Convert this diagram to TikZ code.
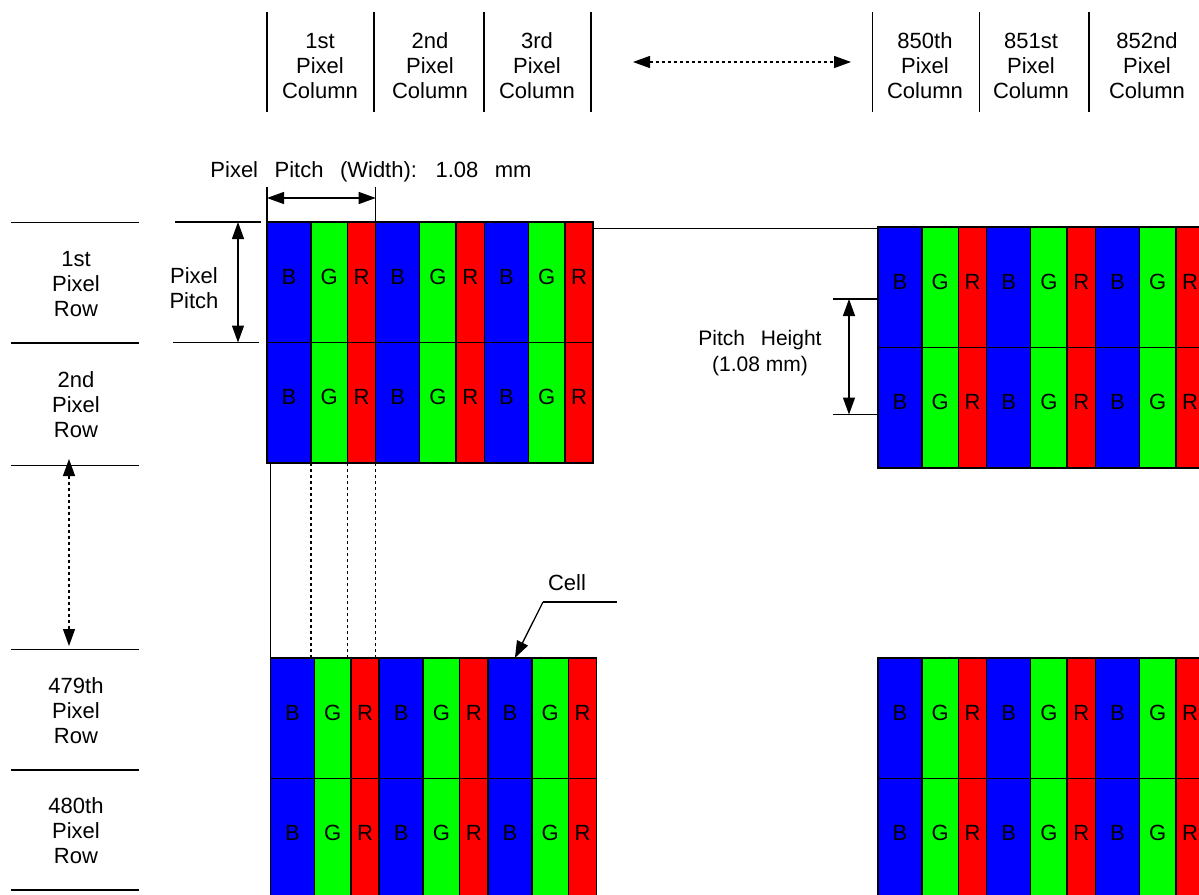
\documentclass[tikz,border=0pt]{standalone}
\usepackage{xcolor}
\usepackage{fontspec}
\setmainfont{Liberation Sans}
\newfontfamily\widefont[WordSpace=2.7]{Liberation Sans}
\usetikzlibrary{arrows.meta,positioning}

\definecolor{pxB}{RGB}{0,0,255}
\definecolor{pxG}{RGB}{0,255,0}
\definecolor{pxR}{RGB}{255,0,0}

\tikzset{
	subpx/.style={draw=black, line width=1.5pt, anchor=north west, inner sep=0pt, outer sep=0pt,
		minimum height=120.5pt, text height=15.75pt, text depth=12pt,
		font=\fontsize{22}{25}\selectfont},
	lbl/.style={align=center, inner sep=0pt, font=\fontsize{22}{25}\selectfont},
	sep/.style={line width=1.3pt},
	dotline/.style={line width=1.3pt, dash pattern=on 3pt off 3pt},
	tip/.tip={Triangle[length=17pt,width=12pt]},
	dimarrow/.style={sep, tip-tip},
	dotarrow/.style={dotline, tip-tip}
}

% one block of 2 x 3 pixels (B G R each)
\newcommand{\pxpanel}[3]{%
	\foreach \r in {1,2} {
		\foreach \p in {0,1,2} {
			\foreach \s/\col/\dx/\w in {B/pxB/0/44, G/pxG/44/36.5, R/pxR/80.5/28.2} {
				\node[subpx, fill=\col, minimum width=\w pt] (#1-\r-\p\s)
				at ({#2+108.7*\p+\dx}, {#3+120.5*(\r-1)}) {\s};
			}
		}
	}
}

\begin{document}
\begin{tikzpicture}[x=1pt, y=-1pt]
			\useasboundingbox (0,0) rectangle (1199,894);
			\clip (0,0) rectangle (1199,894);
			
			% pixel blocks
			\pxpanel{tl}{267}{222}
			\pxpanel{tr}{878}{227}
			\pxpanel{bl}{270.5}{658}
			\pxpanel{br}{878}{658}
			
			% column heads
			\foreach \x in {267,374,484,591,872.5,979.5,1089}
				\draw[sep] (\x,12) -- (\x,112);
			\foreach \x/\n/\t in {320/c1/1st, 430/c2/2nd, 537/c3/3rd,
				925/c850/850th, 1031/c851/851st, 1147/c852/852nd}
				\node[lbl] (\n) at (\x,66) {\t\\Pixel\\Column};
			\coordinate (colL) at (633,62);
			\coordinate (colR) at (851,62);
			\draw[dotarrow] (colL) -- (colR);
			
			% row heads
			\foreach \y in {222.5,343,465.5,649.5,770,890}
				\draw[sep] (11,\y) -- (139,\y);
			\foreach \y/\n/\t in {284/r1/1st, 405/r2/2nd, 711/r479/479th, 831/r480/480th}
				\node[lbl] (\n) at (76,\y) {\t\\Pixel\\Row};
			\coordinate (rowT) at (69,459);
			\coordinate (rowB) at (69,646);
			\draw[dotarrow] (rowT) -- (rowB);
			
			% pixel pitch (width)
			\node[lbl] (pw) at (371,172) {\widefont Pixel Pitch (Width): 1.08 mm};
			\draw[sep] (tl-1-0B.north west) -- ++(0,-35);
			\draw[sep] (tl-1-0R.north east) -- ++(0,-35);
			\draw[dimarrow] ([yshift=24pt]tl-1-0B.north west) -- ([yshift=24pt]tl-1-0R.north east);
			
			% pixel pitch (height, left)
			\node[lbl] (ph) at (194,288) {Pixel\\Pitch};
			\draw[sep] ([xshift=-6pt]tl-1-0B.north west) -- ++(-86,0);
			\draw[sep] ([xshift=-8pt]tl-2-0B.north west) -- ++(-86,0);
			\draw[dimarrow] ([xshift=-29pt]tl-1-0B.north west) -- ([xshift=-29pt]tl-2-0B.north west);
			
			% pitch height (right)
			\coordinate (hT) at ([yshift=-72pt]tr-1-0B.north west);
			\coordinate (hB) at ([yshift=-67pt]tr-2-0B.north west);
			\draw[sep] (hT) -- ++(-45,0);
			\draw[sep] (hB) -- ++(-45,0);
			\draw[dimarrow] ([xshift=-29pt]hT) -- ([xshift=-29pt]hB);
			\node[lbl, font=\fontsize{21}{26}\selectfont] (pht) at (760,353) {\widefont Pitch Height\\(1.08 mm)};
			
			% links between blocks
			\coordinate (linkL) at ([yshift=-6.5pt]tl-1-2R.north east);
			\draw[sep] (linkL) -- (linkL -| tr-1-0B.west);
			\draw[sep] (bl-1-0B.north west) -- (bl-1-0B.north west |- tl-2-0B.south);
			\foreach \n in {0B,0G,0R}
				\draw[dotline] (tl-2-\n.south east) -- (tl-2-\n.south east |- bl-1-0B.north);
			
			% cell callout
			\node[lbl] (cell) at (567,583) {Cell};
			\coordinate (cellend) at (617,602);
			\coordinate (cellknee) at (543,602);
			\draw[sep] (cellend) -- (cellknee);
			\draw[sep, -tip] (cellknee) -- ([xshift=5pt]bl-1-2B.north);
			
		\end{tikzpicture}
\end{document}
